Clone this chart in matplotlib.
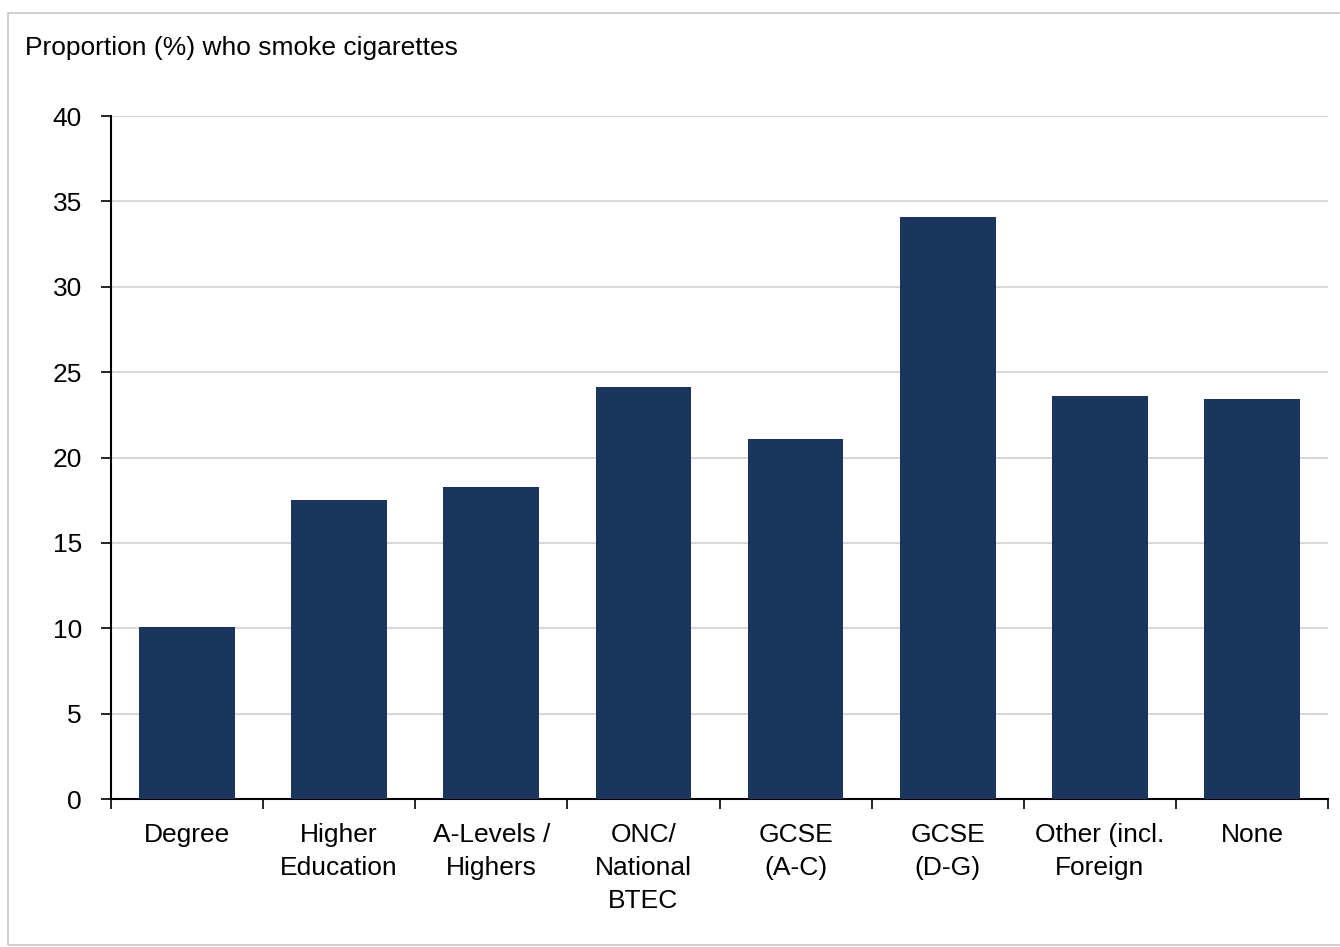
import matplotlib.pyplot as plt
from matplotlib.patches import Rectangle
import numpy as np

categories = ["Degree", "Higher\nEducation", "A-Levels /\nHighers", "ONC/\nNational\nBTEC",
              "GCSE\n(A-C)", "GCSE\n(D-G)", "Other (incl.\nForeign", "None"]
values = [10.1, 17.5, 18.3, 24.1, 21.1, 34.1, 23.6, 23.4]
yticks = [0, 5, 10, 15, 20, 25, 30, 35, 40]

plt.rcParams['font.family'] = ['Liberation Sans', 'DejaVu Sans']

fig = plt.figure(figsize=(13.4, 9.47), dpi=100)
# outer chart frame
fig.patches.append(Rectangle((8 / 1340, 2 / 947), 1.0, 932 / 947, transform=fig.transFigure,
                             fill=False, edgecolor='#c8c8c8', linewidth=1.2))

ax = fig.add_axes([111 / 1340, 1 - 799 / 947, 1217 / 1340, 683 / 947])
x = np.arange(len(categories))
ax.bar(x, values, width=0.63, color='#1a365d', zorder=3)

ax.set_xlim(-0.5, len(categories) - 0.5)
ax.set_ylim(0, 40)
ax.set_yticks(yticks)
ax.set_yticklabels([str(t) for t in yticks], fontsize=19)
ax.yaxis.grid(True, color='#d9d9d9', linewidth=1.5, zorder=0)

ax.set_xticks(np.arange(-0.5, len(categories)), labels=[''] * (len(categories) + 1))
ax.set_xticks(x, labels=categories, minor=True)
for lbl in ax.get_xticklabels(minor=True):
    lbl.set_linespacing(1.48)
ax.tick_params(axis='x', which='minor', length=0, pad=17, labelsize=19)
ax.tick_params(axis='x', which='major', length=7, width=1.2, direction='out')
ax.tick_params(axis='y', length=7, width=1.2, direction='out', pad=14)

for s in ['top', 'right']:
    ax.spines[s].set_visible(False)
for s in ['left', 'bottom']:
    ax.spines[s].set_linewidth(1.5)

fig.text(25 / 1340, 1 - 48 / 947, "Proportion (%) who smoke cigarettes", fontsize=19,
         va='center', ha='left')

fig.savefig('out.png', dpi=100)
